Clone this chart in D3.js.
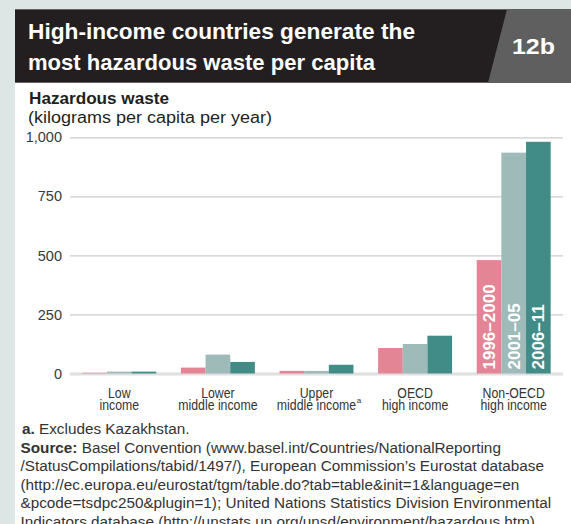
<!DOCTYPE html>
<html>
<head>
<meta charset="utf-8">
<script src="https://cdn.jsdelivr.net/npm/d3@7"></script>
<style>
  html, body { margin: 0; padding: 0; background: #dde6e4; }
  svg { display: block; }
  text { font-family: "Liberation Sans", Arial, sans-serif; }
</style>
</head>
<body>
<script>
// ---- data ----
const categories = [
  ["Low", "income"],
  ["Lower", "middle income"],
  ["Upper", "middle income"],
  ["OECD", "high income"],
  ["Non-OECD", "high income"]
];
const periods = ["1996–2000", "2001–05", "2006–11"];
const values1996 = [3, 25, 11, 108, 480];
const values2001 = [8, 80, 11, 125, 935];
const values2006 = [8, 49, 37, 160, 981];
const yTicks = [0, 250, 500, 750, 1000];

const W = 571, H = 524;
const colors = ["#e38595", "#9ebab9", "#428c87"];
const series = [values1996, values2001, values2006];

const svg = d3.select("body").append("svg").attr("width", W).attr("height", H);

// panel
svg.append("rect").attr("x", 15).attr("y", 9).attr("width", W - 15).attr("height", H - 9).attr("fill", "#fff");
// header
svg.append("rect").attr("x", 15).attr("y", 9.3).attr("width", W - 15).attr("height", 73.4).attr("fill", "#231f20");
svg.append("path").attr("d", "M507,9.3 L571,9.3 L571,82.7 L488,82.7 Z").attr("fill", "#5f5f5f");
svg.append("text").attr("x", 28).attr("y", 38.5).attr("fill", "#fff").attr("font-weight", "bold")
  .attr("font-size", 22).attr("textLength", 387).attr("lengthAdjust", "spacingAndGlyphs")
  .text("High-income countries generate the");
svg.append("text").attr("x", 28).attr("y", 69.5).attr("fill", "#fff").attr("font-weight", "bold")
  .attr("font-size", 22).attr("textLength", 347).attr("lengthAdjust", "spacingAndGlyphs")
  .text("most hazardous waste per capita");
svg.append("text").attr("x", 512).attr("y", 54).attr("fill", "#fff").attr("font-weight", "bold")
  .attr("font-size", 22).attr("textLength", 43).attr("lengthAdjust", "spacingAndGlyphs")
  .text("12b");

// axis titles
svg.append("text").attr("x", 29).attr("y", 103.5).attr("fill", "#231f20").attr("font-weight", "bold")
  .attr("font-size", 16).attr("textLength", 140).attr("lengthAdjust", "spacingAndGlyphs")
  .text("Hazardous waste");
svg.append("text").attr("x", 28).attr("y", 122.5).attr("fill", "#231f20")
  .attr("font-size", 16).attr("textLength", 244).attr("lengthAdjust", "spacingAndGlyphs")
  .text("(kilograms per capita per year)");

// scales
const x0 = d3.scaleBand().domain(d3.range(categories.length)).range([70, 563]).paddingInner(0.25).paddingOuter(0.125);
const x1 = d3.scaleBand().domain(d3.range(series.length)).range([0, x0.bandwidth()]);
const y = d3.scaleLinear().domain([0, 1000]).range([373.5, 137.3]);

// gridlines + tick labels
const yAxis = svg.append("g").attr("transform", "translate(70,0)")
  .call(d3.axisLeft(y).tickValues(yTicks).tickSize(-(563 - 70)).tickPadding(8).tickFormat(d3.format(",")));
yAxis.select(".domain").remove();
yAxis.selectAll(".tick line").attr("stroke", (d) => d === 0 ? "#e0e0e0" : "#cccccc")
  .attr("stroke-width", (d) => d === 0 ? 3 : 1.2);
yAxis.selectAll(".tick text").attr("fill", "#3a3a3a").attr("font-size", 14.5)
  .attr("font-family", "'Liberation Sans', Arial, sans-serif");

// bars
const groups = svg.append("g").selectAll("g").data(categories).join("g")
  .attr("transform", (d, i) => `translate(${x0(i)},0)`);
groups.selectAll("rect").data((d, i) => series.map((s, k) => ({ k, v: s[i] }))).join("rect")
  .attr("x", (d) => x1(d.k))
  .attr("width", x1.bandwidth())
  .attr("y", (d) => y(d.v))
  .attr("height", (d) => y(0) - y(d.v))
  .attr("fill", (d) => colors[d.k]);

// period labels inside last group
const last = categories.length - 1;
svg.append("g").selectAll("text").data(periods).join("text")
  .attr("transform", (d, k) => `translate(${x0(last) + x1(k) + x1.bandwidth() / 2 + 6},369.5) rotate(-90)`)
  .attr("fill", "#fff").attr("font-weight", "bold").attr("font-size", 17)
  .text((d) => d);

// category labels (condensed by textLength)
const catLayer = svg.append("g").attr("fill", "#333").attr("font-size", 15);
categories.forEach((d, i) => {
  const cx = x0(i) + x0.bandwidth() / 2;
  d.forEach((line, j) => {
    const t = catLayer.append("text").attr("x", cx).attr("y", 397.5 + j * 12)
      .attr("text-anchor", "middle").text(line);
    const w = t.node().getComputedTextLength() * 0.82;
    t.attr("textLength", w).attr("lengthAdjust", "spacingAndGlyphs");
    if (i === 2 && j === 1) {
      catLayer.append("text").attr("x", cx + w / 2 + 0.5).attr("y", 403)
        .attr("font-size", 8).text("a");
    }
  });
});

// footnotes
const foot = svg.append("g").attr("fill", "#333").attr("font-size", 15.3);
const fa = foot.append("text").attr("x", 22).attr("y", 434);
fa.append("tspan").attr("font-weight", "bold").text("a.");
fa.append("tspan").text(" Excludes Kazakhstan.");
const sourceLines = [
  "/StatusCompilations/tabid/1497/), European Commission’s Eurostat database",
  "(http://ec.europa.eu/eurostat/tgm/table.do?tab=table&init=1&language=en",
  "&pcode=tsdpc250&plugin=1); United Nations Statistics Division Environmental",
  "Indicators database (http://unstats.un.org/unsd/environment/hazardous.htm)."
];
const fs = foot.append("text").attr("x", 20.5).attr("y", 452.5);
fs.append("tspan").attr("font-weight", "bold").text("Source:");
fs.append("tspan").text(" Basel Convention (www.basel.int/Countries/NationalReporting");
sourceLines.forEach((line, i) => {
  foot.append("text").attr("x", 20.5).attr("y", 471 + i * 18.5).text(line);
});
</script>
</body>
</html>
